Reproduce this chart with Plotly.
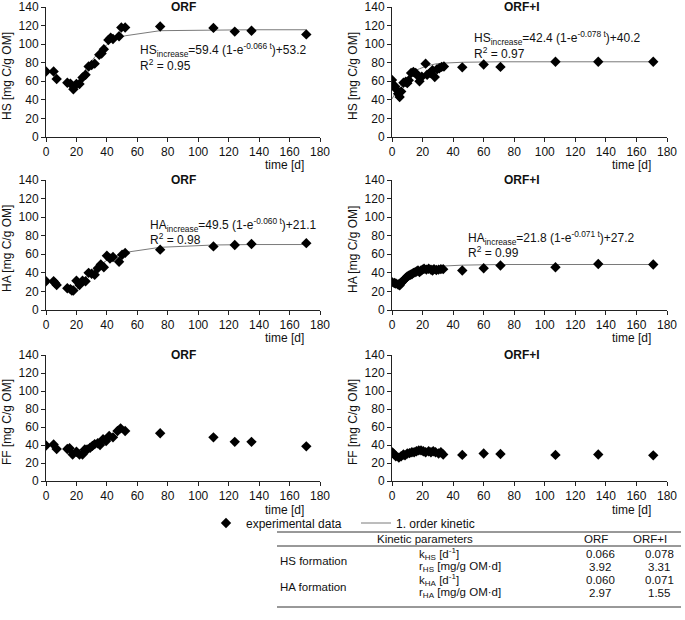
import plotly.graph_objects as go

# HS, ORF
t_hs_orf = [0, 5, 7, 14, 16, 18, 20, 22, 24, 26, 28, 30, 32, 35, 36.5, 38, 41, 42.5, 44, 48, 49.5, 52, 75, 110, 124, 135, 171]
hs_orf = [70.5, 70.5, 62.5, 58.5, 57.5, 51.5, 57, 57, 64, 67, 76, 77.5, 79, 88.5, 90, 94.5, 104.5, 107, 105.5, 108.5, 118, 118, 119, 117.5, 113.5, 114.5, 110.5]
fit_t_orf = [20, 22, 24, 26, 28, 30, 32, 34, 36, 38, 40, 42, 44, 48, 50, 52, 75, 110, 124, 135, 171]
fit_hs_orf = [58, 63, 68, 73, 77.5, 82, 86, 89.5, 93, 96.5, 99.5, 102, 104, 107, 108, 109, 114.5, 115.5, 115.5, 115.5, 115.5]

# HS, ORF+I
t_hs_orfi = [0, 1, 2, 3, 4, 5, 6, 7.5, 9, 10, 11, 12.5, 14, 15.5, 17.5, 18, 19.5, 22, 23, 25, 26.5, 28, 29.5, 31, 32.5, 34, 46, 60, 71, 107, 135, 171]
hs_orfi = [61.5, 56, 54.5, 51, 46.5, 43, 49, 58.5, 59.5, 58, 61, 69, 70, 69, 65, 60, 65, 79, 67, 69, 72, 64.5, 73, 74, 75.5, 76, 75, 78, 75.5, 81, 81, 81]
fit_t_orfi = [0, 2, 4, 6, 8, 10, 12, 14, 16, 18, 20, 22, 24, 26, 28, 30, 33, 46, 60, 71, 107, 135, 171]
fit_hs_orfi = [41, 47, 52.5, 57, 61, 64.5, 67.5, 70, 72, 73.5, 75, 76, 77, 78, 78.5, 79, 79.5, 80.5, 81, 81, 81, 81, 81]

# HA, ORF
t_ha_orf = [0, 5, 6, 7, 14, 16, 17, 18, 20, 22, 24, 26, 28, 30, 32, 34, 36, 38, 40, 42, 44, 48, 50, 52, 75, 110, 124, 135, 171]
ha_orf = [31, 31, 29, 27, 23.5, 22.5, 21, 21, 31.5, 27, 31.5, 31, 40, 39, 38, 45, 49, 46, 58.5, 55.5, 57, 52, 59.5, 61.5, 65, 68.5, 70, 71, 72]
fit_ha_orf = [22, 26.5, 30.5, 34.5, 38, 41.5, 44.5, 47, 49.5, 51.5, 53.5, 55.5, 57, 60, 61, 62, 67.5, 70, 70.3, 70.5, 70.5]

# HA, ORF+I
t_ha_orfi = [0, 1.5, 2.5, 4, 5, 6, 7, 8, 9, 10, 11, 12, 13, 14, 15, 16, 17, 18, 19, 20, 21, 22.5, 24, 25.5, 26.5, 27.5, 29, 30.5, 32, 33.5, 46, 60, 71, 107, 135, 171]
ha_orfi = [30, 29, 28.5, 27.5, 26.5, 29, 31, 32.5, 34.5, 36, 37, 38, 38.5, 40, 40.5, 41.5, 42.5, 41, 42.5, 43.5, 44.5, 43.5, 44.5, 43.5, 42.5, 44, 43, 43.5, 44, 44, 42.5, 45, 48, 46, 49.5, 49]
fit_ha_orfi = [27.2, 30, 32.5, 34.5, 36.5, 38.3, 39.8, 41, 42.2, 43.2, 44, 44.8, 45.4, 46, 46.4, 46.8, 47.3, 48.3, 48.8, 49, 49, 49, 49]

# FF (no fit)
t_ff_orf = [0, 5, 7, 14, 15.5, 17.5, 20, 22, 24, 25.5, 27, 29, 30.5, 32, 34, 35.5, 37.5, 39.5, 41.5, 44, 47, 49, 52, 75, 110, 124, 135, 171]
ff_orf = [39.5, 40.5, 35.5, 35.5, 36.5, 29.5, 32.5, 29.5, 29.5, 35, 35, 37, 39, 41, 42, 40, 46.5, 44.5, 50, 48.5, 55.5, 58.5, 55.5, 53, 48.5, 43.5, 43.5, 38.5]
t_ff_orfi = [0, 1, 2.5, 4.5, 6, 7.5, 8.5, 10, 11.5, 13, 14.5, 16, 17.5, 19, 20.5, 22, 24, 25.5, 27, 28.5, 30.5, 32, 33.5, 46, 60, 71, 107, 135, 171]
ff_orfi = [32, 30.5, 27.5, 26, 27.5, 29.5, 28.5, 30.5, 31, 32, 32, 33, 34, 34, 33, 32, 33, 32, 33, 32, 30.5, 32, 29.5, 29, 30.5, 30, 29, 29.5, 28.5]

# kinetic table
param_rows = ["k<sub>HS</sub> [d<sup>-1</sup>]", "r<sub>HS</sub> [mg/g OM·d]",
              "k<sub>HA</sub> [d<sup>-1</sup>]", "r<sub>HA</sub> [mg/g OM·d]"]
orf_vals = ["0.066", "3.92", "0.060", "2.97"]
orfi_vals = ["0.078", "3.31", "0.071", "1.55"]

W, H = 685, 620
FONT = "Arial, Liberation Sans, sans-serif"


def px(x):
    return x / W


def py(y):
    return 1 - y / H


def note(text, x, y, xref="paper", yref="paper", xanchor="center", size=12, **kw):
    # every annotation gets explicit anchors so 'auto' never shifts it
    return dict(text=text, x=x, y=y, xref=xref, yref=yref, xanchor=xanchor,
                yanchor="middle", showarrow=False,
                font=dict(family=FONT, size=size, color="#111"), **kw)


# panel boxes in pixels: (x0, x1) and (ytop, ybottom)
cols = [(46, 320), (392, 667)]
rows = [(7, 137), (180, 310), (355, 481)]
time_gap = [28, 28, 29]

panels = [
    # row, col, ylabel, title, t, y, fit_t, fit_y, eq, r2, eq_x, eq_y
    (0, 0, "HS", "ORF", t_hs_orf, hs_orf, fit_t_orf, fit_hs_orf,
     "HS<sub>increase</sub>=59.4 (1-e<sup>-0.066 t</sup>)+53.2", "R<sup>2</sup> = 0.95", 60.5, 94),
    (0, 1, "HS", "ORF+I", t_hs_orfi, hs_orfi, fit_t_orfi, fit_hs_orfi,
     "HS<sub>increase</sub>=42.4 (1-e<sup>-0.078 t</sup>)+40.2", "R<sup>2</sup> = 0.97", 52.5, 106.5),
    (1, 0, "HA", "ORF", t_ha_orf, ha_orf, fit_t_orf, fit_ha_orf,
     "HA<sub>increase</sub>=49.5 (1-e<sup>-0.060 t</sup>)+21.1", "R<sup>2</sup> = 0.98", 67, 92),
    (1, 1, "HA", "ORF+I", t_ha_orfi, ha_orfi, fit_t_orfi, fit_ha_orfi,
     "HA<sub>increase</sub>=21.8 (1-e<sup>-0.071 t</sup>)+27.2", "R<sup>2</sup> = 0.99", 48.5, 78),
    (2, 0, "FF", "ORF", t_ff_orf, ff_orf, None, None, None, None, 0, 0),
    (2, 1, "FF", "ORF+I", t_ff_orfi, ff_orfi, None, None, None, None, 0, 0),
]

fig = go.Figure()
annotations = []
layout_axes = {}
shown_pts = False
shown_fit = False

for i, (r, c, lab, title, tt, yy, ft, fy, eq, r2, ex, ey) in enumerate(panels):
    n = i + 1
    xa = "x" if n == 1 else "x%d" % n
    ya = "y" if n == 1 else "y%d" % n
    x0, x1 = cols[c]
    ytop, ybot = rows[r]
    axis_style = dict(showline=True, linecolor="#222", linewidth=1, ticks="outside",
                      ticklen=4, tickcolor="#222", showgrid=False, zeroline=False,
                      automargin=False,
                      tickfont=dict(family=FONT, size=12, color="#111"), fixedrange=True)
    layout_axes["xaxis" if n == 1 else "xaxis%d" % n] = dict(
        domain=[px(x0), px(x1)], range=[0, 180], dtick=20, anchor=ya, **axis_style)
    layout_axes["yaxis" if n == 1 else "yaxis%d" % n] = dict(
        domain=[py(ybot), py(ytop)], range=[0, 140], dtick=20, anchor=xa, **axis_style)

    if ft is not None:
        fig.add_trace(go.Scatter(x=ft, y=fy, mode="lines", xaxis=xa, yaxis=ya,
                                 line=dict(color="#7a7a7a", width=1),
                                 name="1. order kinetic", showlegend=not shown_fit,
                                 legendrank=2))
        shown_fit = True
    fig.add_trace(go.Scatter(x=tt, y=yy, mode="markers", xaxis=xa, yaxis=ya,
                             marker=dict(symbol="diamond", size=8, color="black"),
                             name="experimental data", showlegend=not shown_pts,
                             legendrank=1))
    shown_pts = True

    annotations.append(note("<b>%s</b>" % title, 90 if c == 0 else 85, 140, xa, ya))
    annotations.append(note("%s [mg C/g OM]" % lab, px(x0 - 39), py((ytop + ybot) / 2 + 4),
                            textangle=-90))
    annotations.append(note("time [d]", px(x1 - 36), py(ybot + time_gap[r])))
    if eq:
        annotations.append(note(eq, ex, ey, xa, ya, xanchor="left"))
        annotations.append(note(r2, ex, ey - 16, xa, ya, xanchor="left"))

# table text
TS = 11.5
row_y = [554, 567, 580, 593]
annotations.append(note("Kinetic parameters", px(425), py(538.5), size=TS))
annotations.append(note("ORF", px(596), py(538.5), size=TS))
annotations.append(note("ORF+I", px(650), py(538.5), size=TS))
annotations.append(note("HS formation", px(278), py(561), xanchor="left", size=TS))
annotations.append(note("HA formation", px(278), py(587), xanchor="left", size=TS))
for k in range(4):
    annotations.append(note(param_rows[k], px(417), py(row_y[k]), xanchor="left", size=TS))
    annotations.append(note(orf_vals[k], px(600), py(row_y[k]), size=TS))
    annotations.append(note(orfi_vals[k], px(659), py(row_y[k]), size=TS))

shapes = []
for yl in [532, 546, 607]:
    shapes.append(dict(type="line", xref="paper", yref="paper", x0=px(277), x1=px(681),
                       y0=py(yl), y1=py(yl), line=dict(color="#333", width=1)))

fig.update_layout(
    width=W, height=H,
    margin=dict(l=0, r=0, t=0, b=0, autoexpand=False),
    paper_bgcolor="white", plot_bgcolor="white",
    font=dict(family=FONT, size=12, color="#111"),
    showlegend=True,
    legend=dict(orientation="h", x=px(206), y=py(523), xanchor="left", yanchor="middle",
                font=dict(family=FONT, size=12, color="#111"),
                entrywidth=105, entrywidthmode="pixels", bgcolor="rgba(0,0,0,0)"),
    annotations=annotations,
    shapes=shapes,
    **layout_axes,
)

# the page's default body margin would push the figure 8px right and down
fig.write_html("out.html", config={"displayModeBar": False},
               post_script="document.body.style.margin='0';")
